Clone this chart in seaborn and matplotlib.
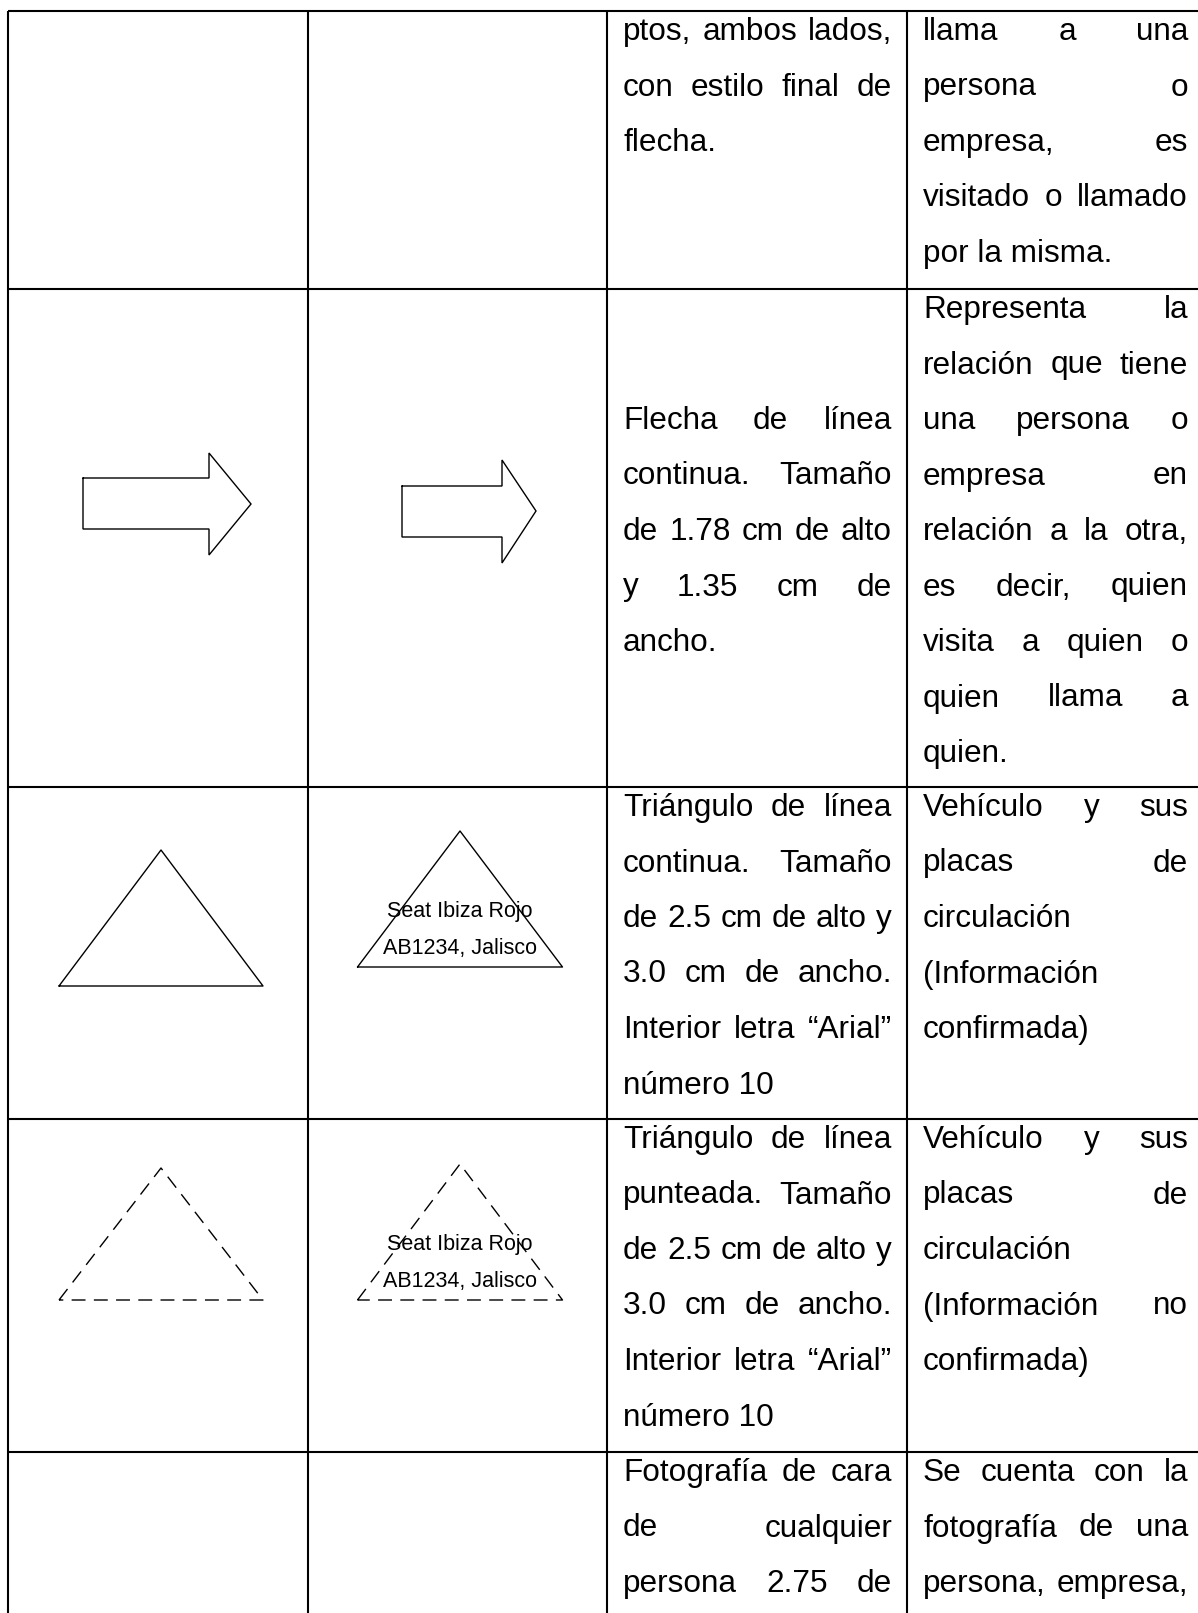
import numpy as np
import pandas as pd
import seaborn as sns
import matplotlib.pyplot as plt

# Textos de la tabla (columna de descripcion y columna de significado)
desc_rows = [
    ["ptos, ambos lados,", "con estilo final de", "flecha."],
    ["Flecha de línea", "continua. Tamaño", "de 1.78 cm de alto", "y 1.35 cm de", "ancho."],
    ["Triángulo de línea", "continua. Tamaño", "de 2.5 cm de alto y", "3.0 cm de ancho.",
     "Interior letra “Arial”", "número 10"],
    ["Triángulo de línea", "punteada. Tamaño", "de 2.5 cm de alto y", "3.0 cm de ancho.",
     "Interior letra “Arial”", "número 10"],
    ["Fotografía de cara", "de cualquier", "persona 2.75 de"],
]
meaning_rows = [
    ["llama a una", "persona o", "empresa, es", "visitado o llamado", "por la misma."],
    ["Representa la", "relación que tiene", "una persona o", "empresa en", "relación a la otra,",
     "es decir, quien", "visita a quien o", "quien llama a", "quien."],
    ["Vehículo y sus", "placas de", "circulación", "(Información", "confirmada)"],
    ["Vehículo y sus", "placas de", "circulación", "(Información no", "confirmada)"],
    ["Se cuenta con la", "fotografía de una", "persona, empresa,"],
]
paragraph_ends = [True, True, True, True, False]
plate_text = ["Seat Ibiza Rojo", "AB1234, Jalisco"]

# Disposicion (pixeles)
W, H = 1198, 1613
col_x = [7.5, 308, 607, 907]
row_y = [11, 289, 787, 1119, 1452]
desc_span = (623, 892)
mean_span = (923, 1188)
desc_offset = [0, 2, 0, 0, 0]
LINE = 55.5
FIRST = 29
FS = 22.7
FS_SMALL = 15.5

sns.set_theme(style="white")
plt.rcParams['font.family'] = ['Liberation Sans', 'DejaVu Sans']

fig = plt.figure(figsize=(W / 100, H / 100), dpi=100)
ax = fig.add_axes([0, 0, 1, 1])
ax.set_xlim(0, W)
ax.set_ylim(H, 0)
ax.axis('off')
renderer = fig.canvas.get_renderer()

# Lineas de la tabla
ax.vlines(col_x, row_y[0], H, color='black', lw=1.5)
ax.hlines(row_y, col_x[0], W, color='black', lw=1.5)


def word_width(w, size):
    t = ax.text(0, 0, w, fontsize=size)
    bb = t.get_window_extent(renderer)
    t.remove()
    return bb.width


def paragraph(lines, span, y0, ends=True):
    x0, x1 = span
    for i, line in enumerate(lines):
        y = y0 + i * LINE
        words = line.split()
        last = ends and i == len(lines) - 1
        if last or len(words) == 1:
            ax.text(x0, y, line, fontsize=FS, va='baseline', ha='left', color='black')
            continue
        widths = [word_width(w, FS) for w in words]
        gap = (x1 - x0 - sum(widths)) / (len(words) - 1)
        x = x0
        for w, wd in zip(words, widths):
            ax.text(x, y, w, fontsize=FS, va='baseline', ha='left', color='black')
            x += wd + gap


for r in range(len(desc_rows)):
    top = row_y[r] + FIRST
    paragraph(desc_rows[r], desc_span, top + desc_offset[r] * LINE, paragraph_ends[r])
    paragraph(meaning_rows[r], mean_span, top, paragraph_ends[r])

# Flechas
arrow_l = np.array([[83, 478], [209, 478], [209, 453], [251, 504], [209, 555],
                    [209, 529], [83, 529], [83, 478]])
arrow_r = np.array([[402, 486], [502, 486], [502, 460], [536, 511], [502, 563],
                    [502, 537], [402, 537], [402, 486]])
for a in (arrow_l, arrow_r):
    ax.plot(a[:, 0], a[:, 1], color='black', lw=1.0, solid_joinstyle='miter')

# Triangulos
def triangle(cx, top, base, half, dashed=False):
    xs = [cx - half, cx, cx + half, cx - half]
    ys = [base, top, base, base]
    ls = (0, (10, 6)) if dashed else '-'
    ax.plot(xs, ys, color='black', lw=1.0, linestyle=ls)

triangle(161, 850, 986, 102)
triangle(460, 831, 967, 102.5)
triangle(161, 1168, 1300, 102, dashed=True)
triangle(460, 1164, 1300, 102.5, dashed=True)

for yb in ([917, 954], [1250, 1287]):
    for txt, y in zip(plate_text, yb):
        ax.text(460, y, txt, fontsize=FS_SMALL, ha='center', va='baseline', color='black')

plt.savefig("out.png", dpi=100)
